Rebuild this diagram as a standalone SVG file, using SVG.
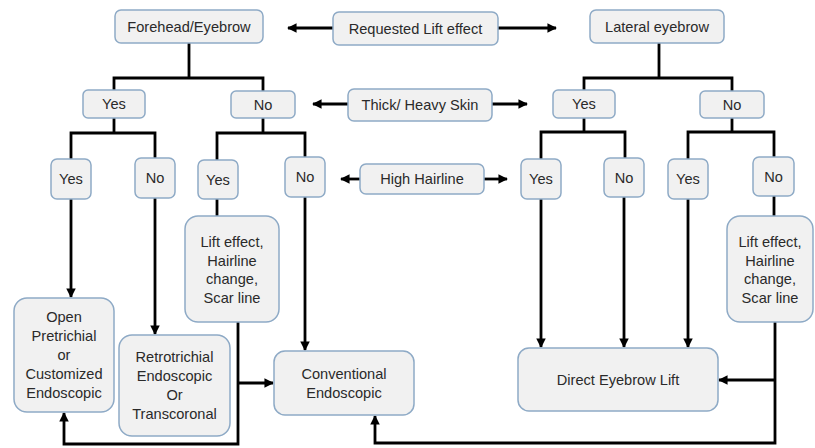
<svg xmlns="http://www.w3.org/2000/svg" width="815" height="448" viewBox="0 0 815 448">
  <style>
    .box { fill: #f1f1f1; stroke: #8eaac6; stroke-width: 1.5; }
    .lbl { font-family: "Liberation Sans", Arial, sans-serif; font-size: 14.6px; fill: #2a2a2a; text-anchor: middle; dominant-baseline: central; }
    .ln { fill: none; stroke: #000; stroke-width: 2.8; }
  </style>
  <defs>
    <marker id="arr" viewBox="0 0 10 10" refX="9" refY="5" markerWidth="3.4" markerHeight="3.4" orient="auto" markerUnits="strokeWidth">
      <path d="M0,0 L10,5 L0,10 z" fill="#000"/>
    </marker>
  </defs>
  <rect width="815" height="448" fill="#fff"/>

  <!-- connectors -->
  <g id="connectors">
    <!-- side criteria arrows -->
    <path class="ln" d="M333,28 H288" marker-end="url(#arr)"/>
    <path class="ln" d="M498,28 H556" marker-end="url(#arr)"/>
    <path class="ln" d="M348,104 H313" marker-end="url(#arr)"/>
    <path class="ln" d="M492,104 H527" marker-end="url(#arr)"/>
    <path class="ln" d="M360,179 H341" marker-end="url(#arr)"/>
    <path class="ln" d="M484,179 H507" marker-end="url(#arr)"/>

    <!-- left tree -->
    <path class="ln" d="M189,43 V78 M114,90 V78 H263 V91"/>
    <path class="ln" d="M114,118 V133 M71,159 V133 H155 V158"/>
    <path class="ln" d="M263,118 V133 M217,160 V133 H305 V157"/>
    <path class="ln" d="M217,199 V216"/>
    <path class="ln" d="M71,199 V297" marker-end="url(#arr)"/>
    <path class="ln" d="M155,198 V334" marker-end="url(#arr)"/>
    <path class="ln" d="M305,197 V350" marker-end="url(#arr)"/>
    <path class="ln" d="M238,322 V444 H64 V413" marker-end="url(#arr)"/>
    <path class="ln" d="M238,383 H273" marker-end="url(#arr)"/>

    <!-- right tree -->
    <path class="ln" d="M659,43 V78 M584,90 V78 H732 V91"/>
    <path class="ln" d="M584,118 V132 M541,159 V132 H625 V158"/>
    <path class="ln" d="M732,118 V132 M688,159 V132 H774 V157"/>
    <path class="ln" d="M774,196 V216"/>
    <path class="ln" d="M541,199 V347" marker-end="url(#arr)"/>
    <path class="ln" d="M624,197 V347" marker-end="url(#arr)"/>
    <path class="ln" d="M688,199 V347" marker-end="url(#arr)"/>
    <path class="ln" d="M775,322 V443 H375 V416" marker-end="url(#arr)"/>
    <path class="ln" d="M775,380 H719" marker-end="url(#arr)"/>
  </g>

  <!-- criteria -->
  <g id="requested-lift"><rect class="box" x="333" y="12" width="165" height="33" rx="6"/><text class="lbl" x="415.5" y="29">Requested Lift effect</text></g>
  <g id="thick-skin"><rect class="box" x="348" y="89" width="144" height="32" rx="6"/><text class="lbl" x="420" y="105">Thick/ Heavy Skin</text></g>
  <g id="high-hairline"><rect class="box" x="360" y="164" width="124" height="30" rx="6"/><text class="lbl" x="422" y="179">High Hairline</text></g>

  <!-- top level -->
  <g id="forehead"><rect class="box" x="115" y="10" width="148" height="33" rx="6"/><text class="lbl" x="189" y="26.5">Forehead/Eyebrow</text></g>
  <g id="lateral"><rect class="box" x="590" y="10" width="134" height="33" rx="6"/><text class="lbl" x="657" y="26.5">Lateral eyebrow</text></g>

  <!-- second level -->
  <g id="l-yes"><rect class="box" x="83" y="90" width="62" height="28" rx="5"/><text class="lbl" x="114" y="104">Yes</text></g>
  <g id="l-no"><rect class="box" x="231" y="91" width="64" height="27" rx="5"/><text class="lbl" x="263" y="104.5">No</text></g>
  <g id="r-yes"><rect class="box" x="553" y="90" width="62" height="28" rx="5"/><text class="lbl" x="584" y="104">Yes</text></g>
  <g id="r-no"><rect class="box" x="700" y="91" width="64" height="27" rx="5"/><text class="lbl" x="732" y="104.5">No</text></g>

  <!-- third level -->
  <g id="l-yes-yes"><rect class="box" x="51" y="159" width="40" height="40" rx="6"/><text class="lbl" x="71" y="179">Yes</text></g>
  <g id="l-yes-no"><rect class="box" x="135" y="158" width="40" height="40" rx="6"/><text class="lbl" x="155" y="178">No</text></g>
  <g id="l-no-yes"><rect class="box" x="198" y="160" width="40" height="39" rx="6"/><text class="lbl" x="218" y="180">Yes</text></g>
  <g id="l-no-no"><rect class="box" x="285" y="157" width="40" height="40" rx="6"/><text class="lbl" x="305" y="177">No</text></g>
  <g id="r-yes-yes"><rect class="box" x="521" y="159" width="40" height="40" rx="6"/><text class="lbl" x="541" y="179">Yes</text></g>
  <g id="r-yes-no"><rect class="box" x="604" y="158" width="40" height="39" rx="6"/><text class="lbl" x="624" y="178">No</text></g>
  <g id="r-no-yes"><rect class="box" x="668" y="159" width="40" height="40" rx="6"/><text class="lbl" x="688" y="179">Yes</text></g>
  <g id="r-no-no"><rect class="box" x="753" y="157" width="41" height="39" rx="6"/><text class="lbl" x="773.5" y="176.5">No</text></g>

  <!-- considerations -->
  <g id="l-consider"><rect class="box" x="185" y="216" width="94" height="106" rx="13"/>
    <text class="lbl" x="232" y="242">Lift effect,</text>
    <text class="lbl" x="232" y="260.5">Hairline</text>
    <text class="lbl" x="232" y="279">change,</text>
    <text class="lbl" x="232" y="297.5">Scar line</text>
  </g>
  <g id="r-consider"><rect class="box" x="727" y="216" width="86" height="106" rx="13"/>
    <text class="lbl" x="770" y="242">Lift effect,</text>
    <text class="lbl" x="770" y="260.5">Hairline</text>
    <text class="lbl" x="770" y="279">change,</text>
    <text class="lbl" x="770" y="297.5">Scar line</text>
  </g>

  <!-- outcomes -->
  <g id="open-pretrichial"><rect class="box" x="14" y="298" width="100" height="114" rx="13"/>
    <text class="lbl" x="64" y="317">Open</text>
    <text class="lbl" x="64" y="336">Pretrichial</text>
    <text class="lbl" x="64" y="355">or</text>
    <text class="lbl" x="64" y="374">Customized</text>
    <text class="lbl" x="64" y="393">Endoscopic</text>
  </g>
  <g id="retrotrichial"><rect class="box" x="119" y="335" width="111" height="101" rx="13"/>
    <text class="lbl" x="174.5" y="357">Retrotrichial</text>
    <text class="lbl" x="174.5" y="376">Endoscopic</text>
    <text class="lbl" x="174.5" y="395">Or</text>
    <text class="lbl" x="174.5" y="414">Transcoronal</text>
  </g>
  <g id="conventional"><rect class="box" x="274" y="351" width="140" height="64" rx="11"/>
    <text class="lbl" x="344" y="373.5">Conventional</text>
    <text class="lbl" x="344" y="392.5">Endoscopic</text>
  </g>
  <g id="direct-eyebrow"><rect class="box" x="518" y="348" width="200" height="63" rx="11"/>
    <text class="lbl" x="618" y="380">Direct Eyebrow Lift</text>
  </g>
</svg>
